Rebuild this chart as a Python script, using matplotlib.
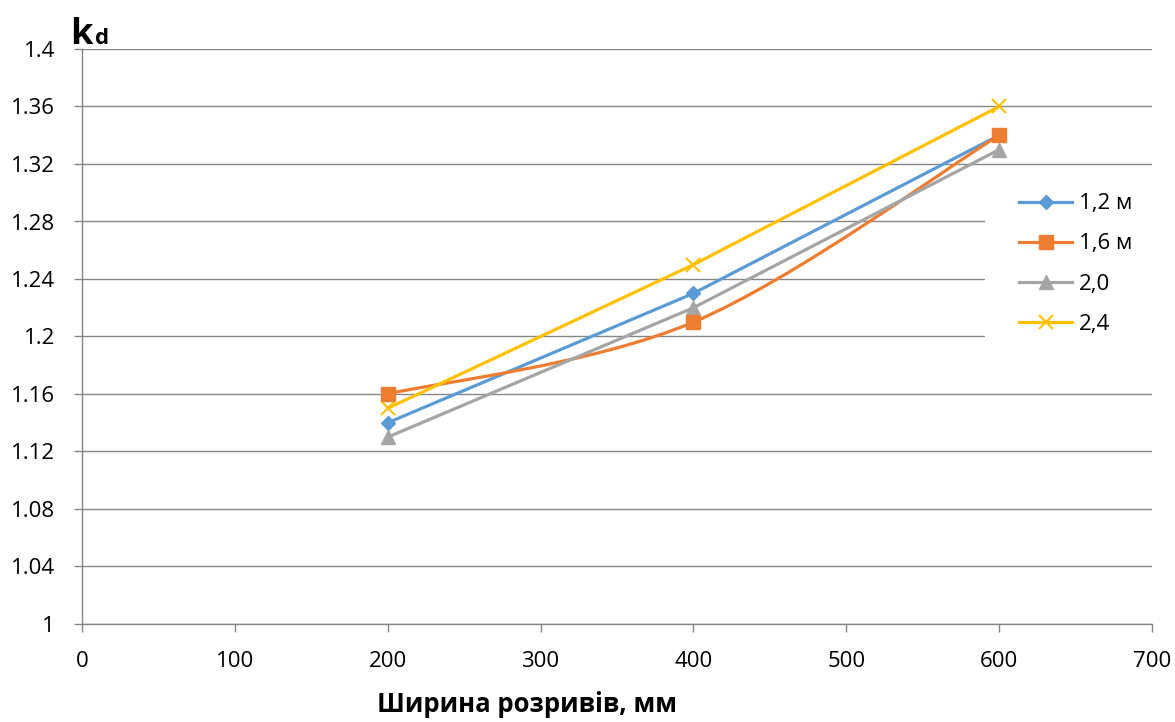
import matplotlib.pyplot as plt
from matplotlib.path import Path
from matplotlib.patches import PathPatch, Rectangle
from matplotlib.lines import Line2D

# data
widths = [200, 400, 600]
k_12 = [1.14, 1.23, 1.34]
k_16 = [1.16, 1.21, 1.34]
k_20 = [1.13, 1.22, 1.33]
k_24 = [1.15, 1.25, 1.36]
labels = ["1,2 м", "1,6 м", "2,0", "2,4"]
x_ticks = [0, 100, 200, 300, 400, 500, 600, 700]
y_ticks = [1, 1.04, 1.08, 1.12, 1.16, 1.2, 1.24, 1.28, 1.32, 1.36, 1.4]

blue, orange, gray, yellow = "#5B9BD5", "#ED7D31", "#A5A5A5", "#FFC000"
grid_c = "#868686"

plt.rcParams['font.family'] = ['Open Sans', 'DejaVu Sans']

fig = plt.figure(figsize=(11.75, 7.22), dpi=100)
ax = fig.add_axes([82 / 1175, 1 - 624 / 722, (1152 - 82) / 1175, (624 - 49) / 722])


def smooth_path(xs, ys):
    # Excel style smoothed line: cubic bezier through the points
    pts = list(zip(xs, ys))
    ext = [pts[0]] + pts + [pts[-1]]
    verts = [pts[0]]
    codes = [Path.MOVETO]
    for i in range(1, len(ext) - 2):
        p0, p1, p2, p3 = ext[i - 1], ext[i], ext[i + 1], ext[i + 2]
        c1 = (p1[0] + (p2[0] - p0[0]) / 6, p1[1] + (p2[1] - p0[1]) / 6)
        c2 = (p2[0] - (p3[0] - p1[0]) / 6, p2[1] - (p3[1] - p1[1]) / 6)
        verts += [c1, c2, p2]
        codes += [Path.CURVE4] * 3
    return Path(verts, codes)


lw = 2.3
ax.plot(widths, k_12, color=blue, lw=lw, marker="D", ms=7.5, zorder=3)
ax.add_patch(PathPatch(smooth_path(widths, k_16), fill=False, edgecolor=orange, lw=lw, zorder=3))
ax.plot(widths, k_16, ls="none", color=orange, marker="s", ms=10.5, zorder=4)
ax.plot(widths, k_20, color=gray, lw=lw, marker="^", ms=9.5, zorder=3)
ax.plot(widths, k_24, color=yellow, lw=lw, marker="x", ms=10.5, mew=1.5, zorder=3)

ax.set_xlim(0, 700)
ax.set_ylim(1, 1.4)
ax.set_xticks(x_ticks)
ax.set_yticks(y_ticks)
ax.set_yticklabels([f"{v:g}" for v in y_ticks])
ax.yaxis.grid(True, color=grid_c, lw=1.0)
ax.set_axisbelow(True)
for s in ["top", "right"]:
    ax.spines[s].set_visible(False)
for s in ["left", "bottom"]:
    ax.spines[s].set_color(grid_c)
    ax.spines[s].set_linewidth(1.0)
ax.tick_params(axis="both", colors=grid_c, length=5.5, width=1, labelsize=16,
               labelcolor="black")
ax.tick_params(axis="x", pad=14)
ax.tick_params(axis="y", pad=14)

# white area behind the legend hides the gridlines there
ax.add_patch(Rectangle((985 / 1175, 1 - 348 / 722), (1152 - 985) / 1175, 165 / 722,
                       transform=fig.transFigure, facecolor="white", edgecolor="none",
                       zorder=2))

fig.text(527 / 1175, 1 - 705 / 722, "Ширина розривів, мм", fontsize=18.5,
         fontweight="bold", ha="center", va="center")
fig.text(70 / 1175, 1 - 44 / 722, "k", fontsize=26, fontweight="bold")
fig.text(95 / 1175, 1 - 44 / 722, "d", fontsize=16, fontweight="bold")

handles = [
    Line2D([], [], color=blue, lw=lw, marker="D", ms=7.5),
    Line2D([], [], color=orange, lw=lw, marker="s", ms=10.5),
    Line2D([], [], color=gray, lw=lw, marker="^", ms=9.5),
    Line2D([], [], color=yellow, lw=lw, marker="x", ms=10.5, mew=1.5),
]
leg = ax.legend(handles, labels, loc="center left", bbox_to_anchor=(1019 / 1175, 1 - 264 / 722),
                bbox_transform=fig.transFigure, frameon=False, fontsize=16,
                handlelength=2.4, handletextpad=0.3, labelspacing=0.86,
                borderpad=0, borderaxespad=0)

fig.savefig("out.png", dpi=100)
